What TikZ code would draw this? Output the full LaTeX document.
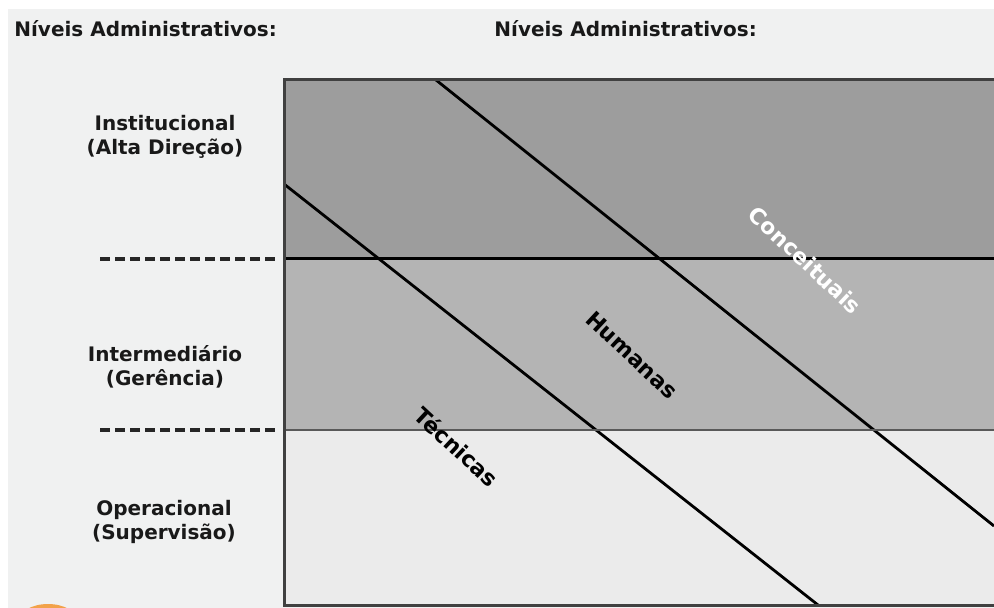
\documentclass[tikz,border=0pt]{standalone}
\usepackage{fontspec}
\setmainfont{DejaVu Sans}
\usepackage{xcolor}
\usepackage{tikz}
\usetikzlibrary{positioning,calc}

\definecolor{fundo}{HTML}{F0F1F1}
\definecolor{corAlta}{HTML}{9D9D9D}
\definecolor{corGerencia}{HTML}{B4B4B4}
\definecolor{corOper}{HTML}{EBEBEB}
\definecolor{corLogo}{HTML}{F2A24A}

\begin{document}
\begin{tikzpicture}[x=0.5pt,y=-0.5pt,
		titulo/.style={font=\fontsize{10}{11}\selectfont\bfseries, text=black!90, inner sep=0pt, anchor=base west},
		nivel/.style={font=\fontsize{10}{12}\selectfont\bfseries, text=black!90, align=center, inner sep=0pt},
		habil/.style={font=\fontsize{11}{12}\selectfont\bfseries, rotate=-43, inner sep=0pt},
		tracejado/.style={line width=1.6pt, black!85, dash pattern=on 5pt off 2.5pt},
		diagonal/.style={line width=1.4pt}]
	\useasboundingbox (0,0) rectangle (994,608);
	
	% fundo e margens
	\fill[white] (0,0) rectangle (994,608);
	\fill[fundo] (8,9) rectangle (994,608);
	\begin{scope}
		\clip (0,0) rectangle (994,608);
		\fill[corLogo] (48,622) ellipse (30 and 18);
	\end{scope}
	
	% cantos do quadro
	\coordinate (qNO) at (284,80);
	\coordinate (qNE) at (994,80);
	\coordinate (qSO) at (284,605);
	\coordinate (qSE) at (994,605);
	\coordinate (d1O) at (284,259);
	\coordinate (d1E) at (994,259);
	\coordinate (d2O) at (284,430);
	\coordinate (d2E) at (994,430);
	
	% faixas dos niveis
	\fill[corAlta] (qNO) rectangle (d1E);
	\fill[corGerencia] (d1O) rectangle (d2E);
	\fill[corOper] (d2O) rectangle (qSE);
	
	% diagonais das habilidades
	\coordinate (c1a) at (436,80);
	\coordinate (c1b) at (994,526);
	\coordinate (c2a) at (284,184);
	\coordinate (c2b) at (818,605);
	\draw[diagonal] (c1a) -- (c1b);
	\draw[diagonal] (c2a) -- (c2b);
	
	% divisorias
	\draw[line width=1.5pt] (d1O) -- (d1E);
	\draw[line width=1pt, black!65] (d2O) -- (d2E);
	\draw[line width=1.5pt, black!75] (qNE) -- (qNO) -- (qSO) -- (qSE);
	
	% tracejados a esquerda
	\coordinate (t1a) at (100,259);
	\coordinate (t2a) at (100,430);
	\draw[tracejado] (t1a) -- ($(d1O)+(-6,0)$);
	\draw[tracejado] (t2a) -- ($(d2O)+(-6,0)$);
	
	% titulos
	\node[titulo] (tit1) at (14,37) {Níveis Administrativos:};
	\node[titulo] (tit2) at (494,37) {Níveis Administrativos:};
	
	% niveis
	\node[nivel] (inst) at (165,137) {Institucional\\(Alta Direção)};
	\node[nivel] (inter) at (165,367) {Intermediário\\(Gerência)};
	\node[nivel] (oper) at (164,522) {Operacional\\(Supervisão)};
	
	% habilidades
	\node[habil, text=white] (conc) at (805,260) {Conceituais};
	\node[habil] (hum) at (632,355) {Humanas};
	\node[habil] (tec) at (457,447) {Técnicas};
\end{tikzpicture}
\end{document}
